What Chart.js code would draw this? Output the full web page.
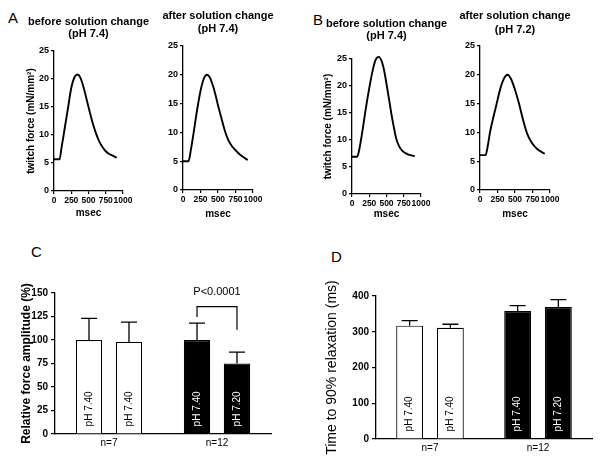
<html>
<head>
<script src="https://cdn.jsdelivr.net/npm/chart.js"></script>
<style>
body { margin: 0; background: #fff; }
#fig { position: relative; width: 600px; height: 464px; }
canvas { position: absolute; }
.lab { position: absolute; font: 15px "Liberation Sans", Arial, sans-serif; line-height: 16px; }
</style>
</head>
<body>
<div id="fig">
  <div class="lab" style="left:8px;top:10px">A</div>
  <div class="lab" style="left:313px;top:12px">B</div>
  <div class="lab" style="left:31px;top:244px">C</div>
  <div class="lab" style="left:331px;top:249px">D</div>
  <canvas id="a1" width="128" height="211" style="left:25px;top:8px"></canvas>
  <canvas id="a2" width="125" height="212" style="left:158px;top:8px"></canvas>
  <canvas id="b1" width="129" height="212" style="left:322px;top:8px"></canvas>
  <canvas id="b2" width="125" height="212" style="left:455px;top:8px"></canvas>
  <canvas id="c" width="255" height="172" style="left:19px;top:280px"></canvas>
  <canvas id="d" width="272" height="204" style="left:324px;top:256px"></canvas>
</div>
<script>
// twitch traces (msec, mN/mm2)
var tA1 = [0, 80, 110, 150, 200, 250, 300, 340, 380, 420, 460, 500, 550, 600, 650, 700, 750, 800, 850, 910];
var fA1 = [5.67, 5.67, 7.8, 10.8, 14.6, 18.4, 20.4, 20.8, 20.3, 18.9, 17.0, 15.0, 12.6, 10.6, 9.0, 7.9, 7.1, 6.6, 6.3, 5.95];
var tA2 = [0, 80, 110, 150, 200, 250, 300, 343, 380, 420, 460, 500, 550, 600, 650, 700, 750, 800, 850, 925];
var fA2 = [5.0, 5.0, 6.8, 9.8, 13.8, 17.2, 19.4, 20.0, 19.6, 18.4, 16.7, 14.7, 12.4, 10.2, 8.6, 7.6, 6.9, 6.3, 5.8, 5.2];
var tB1 = [0, 75, 100, 130, 160, 200, 250, 300, 340, 385, 430, 470, 505, 540, 570, 600, 640, 680, 730, 800, 860, 910];
var fB1 = [6.9, 6.9, 7.9, 10.0, 12.4, 15.8, 19.6, 22.9, 24.8, 25.4, 24.6, 22.6, 20.0, 17.3, 14.9, 12.8, 10.3, 8.9, 8.0, 7.4, 7.15, 7.0];
var tB2 = [0, 80, 110, 143, 190, 238, 290, 340, 395, 450, 500, 557, 610, 667, 720, 786, 850, 925];
var fB2 = [6.06, 6.06, 7.6, 10.0, 12.6, 15.0, 17.6, 19.3, 20.0, 19.1, 17.4, 15.0, 12.4, 10.0, 8.6, 7.5, 6.8, 6.3];

// bar panels
var groups = ['n=7', 'n=12'];
var groupColors = ['#fff', '#000'];
var firstPH = ['pH 7.40', 'pH 7.40'];
var secondPH = ['pH 7.40', 'pH 7.20'];
var firstAmp = [100, 100], firstAmpErr = [23, 18];
var secondAmp = [98, 75], secondAmpErr = [21, 12];
var firstRelax = [317, 358], firstRelaxErr = [14, 15];
var secondRelax = [311, 369], secondRelaxErr = [10, 21];

Chart.defaults.font.family = '"Liberation Sans", Arial, sans-serif';
Chart.defaults.color = '#000';
Chart.defaults.animation = false;

// two-line title centred on the plot area, not squeezed to its width
var panelTitle = {
  id: 'panelTitle',
  afterDraw: function(chart, args, opts) {
    if (!opts.lines) return;
    var ctx = chart.ctx, a = chart.chartArea;
    ctx.save();
    ctx.fillStyle = '#000';
    ctx.font = 'bold 11px "Liberation Sans", Arial, sans-serif';
    ctx.textAlign = 'center';
    ctx.textBaseline = 'middle';
    opts.lines.forEach(function(s, i) { ctx.fillText(s, (a.left + a.right) / 2, opts.ys[i]); });
    ctx.restore();
  }
};

function xy(t, f) { return t.map(function(v, i) { return {x: v, y: f[i]}; }); }

function trace(id, t, f, title, ys, yTitle, wy, hx, padTop) {
  new Chart(document.getElementById(id), {
    type: 'line',
    data: { datasets: [{ data: xy(t, f), borderColor: '#000', borderWidth: 1.9, pointRadius: 0, clip: false, cubicInterpolationMode: 'monotone' }] },
    plugins: [panelTitle],
    options: {
      responsive: false,
      layout: { padding: { top: padTop, right: 30, bottom: 0, left: 0 } },
      plugins: {
        legend: { display: false }, tooltip: { enabled: false },
        panelTitle: { lines: title, ys: ys }
      },
      scales: {
        x: {
          type: 'linear', min: 0, max: 1000,
          afterFit: function(s) { s.height = hx; },
          ticks: { stepSize: 250, autoSkip: false, maxRotation: 0, minRotation: 0, padding: 2,
                   font: { size: 8.5, weight: 'bold' }, callback: function(v) { return String(v); } },
          grid: { drawOnChartArea: false, tickLength: 3, color: '#000', lineWidth: 1.2 },
          border: { color: '#000', width: 1.3 },
          title: { display: true, text: 'msec', padding: 0, font: { size: 10, weight: 'bold', lineHeight: 1.2 } }
        },
        y: {
          min: 0, max: 25,
          afterFit: function(s) { s.width = wy; },
          ticks: { stepSize: 5, padding: 2, font: { size: 9, weight: 'bold' } },
          grid: { drawOnChartArea: false, tickLength: 3, color: '#000', lineWidth: 1.2 },
          border: { color: '#000', width: 1.3 },
          title: { display: !!yTitle, text: yTitle, padding: 0, font: { size: 10, weight: 'bold', lineHeight: 1.2 } }
        }
      }
    }
  });
}

trace('a1', tA1, fA1, ['before solution change', '(pH 7.4)'], [14, 26], 'twitch force (mN/mm²)', 29, 28, 43);
trace('a2', tA2, fA2, ['after solution change', '(pH 7.4)'], [8, 21], '', 25, 30, 38);
trace('b1', tB1, fB1, ['before solution change', '(pH 7.4)'], [16, 28], 'twitch force (mN/mm²)', 30, 26, 51);
trace('b2', tB2, fB2, ['after solution change', '(pH 7.2)'], [8, 22], '', 25, 30, 38);

// error bars (up only) and rotated pH labels inside the bars
var barExtras = {
  id: 'barExtras',
  afterDatasetsDraw: function(chart) {
    var ctx = chart.ctx, y = chart.scales.y;
    chart.data.datasets.forEach(function(ds, i) {
      chart.getDatasetMeta(i).data.forEach(function(bar, j) {
        var top = y.getPixelForValue(ds.data[j] + ds.errors[j]);
        ctx.save();
        ctx.strokeStyle = '#000';
        ctx.lineWidth = 1.3;
        ctx.beginPath();
        ctx.moveTo(bar.x, bar.y); ctx.lineTo(bar.x, top);
        ctx.moveTo(bar.x - 8, top); ctx.lineTo(bar.x + 8, top);
        ctx.stroke();
        ctx.translate(bar.x, bar.base - 7);
        ctx.rotate(-Math.PI / 2);
        ctx.fillStyle = groupColors[j] == '#000' ? '#fff' : '#000';
        ctx.font = '10px "Liberation Sans", Arial, sans-serif';
        ctx.textAlign = 'left';
        ctx.textBaseline = 'middle';
        ctx.fillText(ds.inner[j], 0, 0);
        ctx.restore();
      });
    });
  }
};

var sigBracket = {
  id: 'sigBracket',
  afterDraw: function(chart) {
    var ctx = chart.ctx, y = chart.scales.y;
    var l = chart.getDatasetMeta(0).data[1].x, r = chart.getDatasetMeta(1).data[1].x;
    ctx.save();
    ctx.strokeStyle = '#000';
    ctx.lineWidth = 1.2;
    ctx.beginPath();
    ctx.moveTo(l, y.getPixelForValue(124.5));
    ctx.lineTo(l, y.getPixelForValue(135.5));
    ctx.lineTo(r, y.getPixelForValue(135.5));
    ctx.lineTo(r, y.getPixelForValue(111));
    ctx.stroke();
    ctx.fillStyle = '#000';
    ctx.font = '11px "Liberation Sans", Arial, sans-serif';
    ctx.textAlign = 'center';
    ctx.textBaseline = 'middle';
    ctx.fillText('P<0.0001', (l + r) / 2, y.getPixelForValue(151));
    ctx.restore();
  }
};

function bars(id, a, aErr, b, bErr, max, step, yTitle, titleFont, wy, hx, pad, catPct, plugins) {
  new Chart(document.getElementById(id), {
    type: 'bar',
    data: {
      labels: groups,
      datasets: [
        { data: a, errors: aErr, inner: firstPH, backgroundColor: groupColors, borderColor: '#000', borderWidth: 1.2 },
        { data: b, errors: bErr, inner: secondPH, backgroundColor: groupColors, borderColor: '#000', borderWidth: 1.2 }
      ]
    },
    plugins: plugins,
    options: {
      responsive: false,
      categoryPercentage: catPct, barPercentage: 0.66,
      layout: { padding: pad },
      plugins: { legend: { display: false }, tooltip: { enabled: false } },
      scales: {
        x: {
          afterFit: function(s) { s.height = hx; },
          ticks: { padding: 3, font: { size: 10 } },
          grid: { display: false, drawTicks: false, tickLength: 0 },
          border: { color: '#000', width: 1.3 }
        },
        y: {
          min: 0, max: max,
          afterFit: function(s) { s.width = wy; },
          ticks: { stepSize: step, padding: 3, font: { size: 10, weight: 'bold' } },
          grid: { drawOnChartArea: false, tickLength: 4, color: '#000', lineWidth: 1.2 },
          border: { color: '#000', width: 1.3 },
          title: { display: true, text: yTitle, padding: 0, font: titleFont }
        }
      }
    }
  });
}

bars('c', firstAmp, firstAmpErr, secondAmp, secondAmpErr, 150, 25, 'Relative force amplitude (%)',
  { size: 12, weight: 'bold', lineHeight: 1.2 }, 36, 18, { top: 13, right: 3 }, 0.74, [barExtras, sigBracket]);
bars('d', firstRelax, firstRelaxErr, secondRelax, secondRelaxErr, 400, 100, 'Time to 90% relaxation (ms)',
  { size: 14, lineHeight: 1.2 }, 52, 21, { top: 40, right: 4 }, 0.754, [barExtras]);
</script>
</body>
</html>
